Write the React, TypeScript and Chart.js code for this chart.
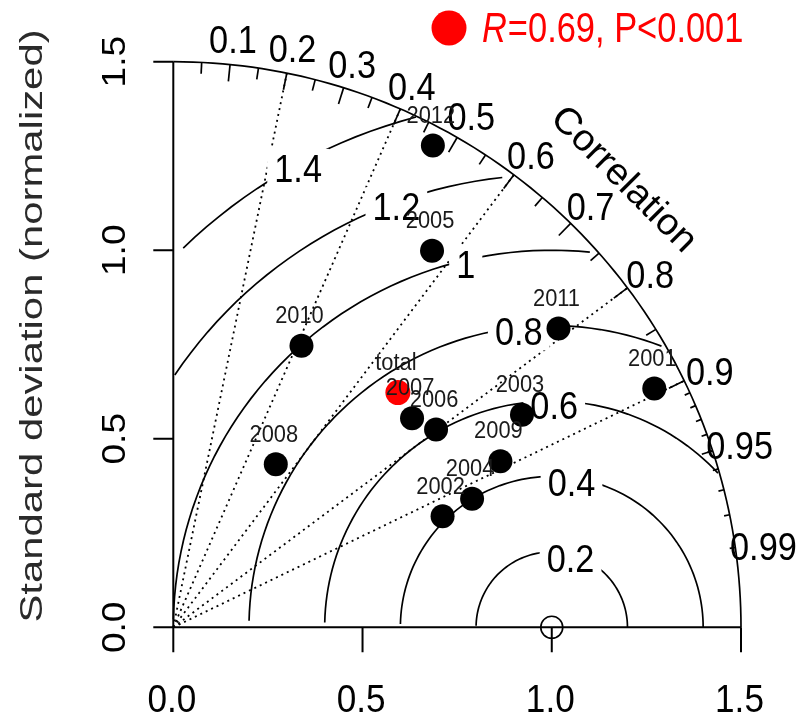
import React, { useEffect, useRef } from "react";
import { Chart, registerables } from "chart.js";

Chart.register(...registerables);

// ---------------- data ----------------
const years = ["2001", "2002", "2003", "2004", "2005", "2006", "2007", "2008", "2009", "2010", "2011", "2012"];
const yearSD = [1.42, 0.77, 1.08, 0.86, 1.21, 0.87, 0.84, 0.51, 0.97, 0.82, 1.29, 1.45];
const yearCorr = [0.895, 0.924, 0.853, 0.918, 0.565, 0.798, 0.751, 0.531, 0.891, 0.413, 0.789, 0.473];

const totalLabel = "total";
const totalSD = 0.86;
const totalCorr = 0.69;

const axisTicks = [0, 0.5, 1.0, 1.5];
const axisTickLabels = ["0.0", "0.5", "1.0", "1.5"];
const corrTickValues = [0.1, 0.2, 0.3, 0.4, 0.5, 0.6, 0.7, 0.8, 0.9, 0.95, 0.99];
const corrTickLabels = ["0.1", "0.2", "0.3", "0.4", "0.5", "0.6", "0.7", "0.8", "0.9", "0.95", "0.99"];
const corrLines = [0.2, 0.4, 0.6, 0.8, 0.9];
const rmsContours = [0.2, 0.4, 0.6, 0.8, 1.0, 1.2, 1.4];
const rmsLabels = ["0.2", "0.4", "0.6", "0.8", "1", "1.2", "1.4"];
const maxSD = 1.5;
const refSD = 1.0;

const yTitle = "Standard deviation (normalized)";
const corrTitle = "Correlation";
const legendR = "R";
const legendRest = "=0.69, P<0.001";

// ---------------- layout ----------------
const W = 801;
const H = 720;
const FONT = '"Liberation Sans", Arial, Helvetica, sans-serif';
const rmsLabelIndex = [45, 49, 53, 57, 61, 65, 70];

function toXY(sd: number, r: number) {
  return { x: sd * r, y: sd * Math.sqrt(1 - r * r) };
}

function txt(
  ctx: CanvasRenderingContext2D,
  s: string,
  x: number,
  y: number,
  size: number,
  o: { rot?: number; sx?: number; align?: CanvasTextAlign; color?: string; italic?: boolean } = {}
) {
  ctx.save();
  ctx.translate(x, y);
  if (o.rot) ctx.rotate(o.rot);
  ctx.scale(o.sx ?? 1, 1);
  ctx.font = `${o.italic ? "italic " : ""}${size}px ${FONT}`;
  ctx.fillStyle = o.color ?? "#000";
  ctx.textAlign = o.align ?? "center";
  ctx.textBaseline = "alphabetic";
  ctx.fillText(s, 0, 0.358 * size);
  ctx.restore();
}

function textWidth(ctx: CanvasRenderingContext2D, s: string, size: number, sx: number, italic = false) {
  ctx.save();
  ctx.font = `${italic ? "italic " : ""}${size}px ${FONT}`;
  const w = ctx.measureText(s).width * sx;
  ctx.restore();
  return w;
}

const taylorPlugin = {
  id: "taylor",
  beforeDatasetsDraw(chart: any) {
    const ctx: CanvasRenderingContext2D = chart.ctx;
    const xs = chart.scales.x;
    const ys = chart.scales.y;
    const px = (v: number) => xs.getPixelForValue(v);
    const py = (v: number) => ys.getPixelForValue(v);
    ctx.save();
    ctx.lineCap = "butt";

    // radial correlation lines (dotted)
    ctx.strokeStyle = "#000";
    ctx.lineWidth = 1.8;
    ctx.setLineDash([2, 4]);
    corrLines.forEach((r) => {
      ctx.beginPath();
      ctx.moveTo(px(0), py(0));
      ctx.lineTo(px(maxSD * r), py(maxSD * Math.sqrt(1 - r * r)));
      ctx.stroke();
    });
    ctx.setLineDash([]);

    // RMS contours (plotrix-like sampling)
    const thetas: number[] = [];
    for (let i = 0; i < 105; i++) thetas.push(i * 0.03);
    rmsContours.forEach((g) => {
      const xc = thetas.map((t) => Math.cos(t) * g + refSD);
      const yc = thetas.map((t) => Math.sin(t) * g);
      let end = xc.findIndex((v) => v < 0);
      end = end >= 0 ? end - 1 : xc.length - 1;
      let start = 0;
      for (let i = 0; i < xc.length; i++) if (xc[i] * xc[i] + yc[i] * yc[i] > maxSD * maxSD) start = i + 1;
      ctx.beginPath();
      for (let i = start; i <= end; i++) {
        if (i === start) ctx.moveTo(px(xc[i]), py(yc[i]));
        else ctx.lineTo(px(xc[i]), py(yc[i]));
      }
      ctx.lineWidth = 1.7;
      ctx.stroke();
    });

    // RMS labels with white boxes
    rmsContours.forEach((g, k) => {
      const t = (rmsLabelIndex[k] - 1) * 0.03;
      const lx = px(Math.cos(t) * g + refSD);
      const ly = py(Math.sin(t) * g) + 4;
      const size = 39;
      const sx = 0.88;
      const w = textWidth(ctx, rmsLabels[k], size, sx);
      const h = 0.716 * size;
      ctx.fillStyle = "#fff";
      ctx.fillRect(lx - w / 2 - 7, ly - h / 2 - 5, w + 14, h + 10);
      txt(ctx, rmsLabels[k], lx, ly, size, { sx });
    });

    // outer arc
    ctx.strokeStyle = "#000";
    ctx.lineWidth = 1.7;
    ctx.beginPath();
    for (let i = 0; i <= 90; i++) {
      const a = (i / 90) * (Math.PI / 2);
      const x = px(Math.cos(a) * maxSD);
      const y = py(Math.sin(a) * maxSD);
      if (i === 0) ctx.moveTo(x, y);
      else ctx.lineTo(x, y);
    }
    ctx.stroke();

    // arc ticks
    const tick = (r: number, f: number) => {
      const a = Math.acos(r);
      ctx.beginPath();
      ctx.moveTo(px(Math.cos(a) * maxSD), py(Math.sin(a) * maxSD));
      ctx.lineTo(px(Math.cos(a) * maxSD * f), py(Math.sin(a) * maxSD * f));
      ctx.stroke();
    };
    for (let i = 1; i <= 9; i++) tick(i / 10, 0.97);
    for (let i = 0; i < 10; i++) tick(0.05 + i * 0.1, 0.98);
    for (let i = 1; i <= 9; i++) tick(0.9 + i / 100, 0.99);

    // axes
    ctx.lineWidth = 2;
    ctx.beginPath();
    ctx.moveTo(px(0), py(0));
    ctx.lineTo(px(maxSD), py(0));
    ctx.moveTo(px(0), py(0));
    ctx.lineTo(px(0), py(maxSD));
    axisTicks.forEach((v) => {
      ctx.moveTo(px(v), py(0));
      ctx.lineTo(px(v), py(0) + 25);
      ctx.moveTo(px(0), py(v));
      ctx.lineTo(px(0) - 20, py(v));
    });
    ctx.stroke();

    // reference point
    ctx.lineWidth = 1.6;
    ctx.beginPath();
    ctx.arc(px(refSD), py(0), 11, 0, Math.PI * 2);
    ctx.stroke();

    // axis tick labels
    axisTicks.forEach((v, i) => {
      txt(ctx, axisTickLabels[i], px(v) - 1.5, 698, 39, { sx: 0.9 });
      txt(ctx, axisTickLabels[i], 113, py(v), 34, { sx: 1.09, rot: -Math.PI / 2 });
    });

    // y title
    txt(ctx, yTitle, 31, 326, 31, { sx: 1.35, rot: -Math.PI / 2, color: "#2a2a2a" });

    // correlation labels
    corrTickValues.forEach((r, i) => {
      const a = Math.acos(r);
      const x = px(Math.cos(a) * maxSD * 1.05);
      const y = py(Math.sin(a) * maxSD * 1.05) + 3;
      txt(ctx, corrTickLabels[i], x, y, 39, { sx: 0.88 });
    });
    txt(ctx, corrTitle, px(maxSD * 0.8) - 2, py(maxSD * 0.8) + 3, 37, { sx: 1.05, rot: Math.PI / 4 });

    // legend
    ctx.fillStyle = "#ff0000";
    ctx.beginPath();
    ctx.arc(449, 28, 17.5, 0, Math.PI * 2);
    ctx.fill();
    const ls = 42;
    const lsx = 0.82;
    txt(ctx, legendR, 482, 27, ls, { sx: lsx, align: "left", color: "#ff0000", italic: true });
    const rw = textWidth(ctx, legendR, ls, lsx, true);
    txt(ctx, legendRest, 482 + rw + 1, 27, ls, { sx: lsx, align: "left", color: "#ff0000" });

    ctx.restore();
  },
  afterDatasetsDraw(chart: any) {
    const ctx: CanvasRenderingContext2D = chart.ctx;
    const xs = chart.scales.x;
    const ys = chart.scales.y;
    const lab = (name: string, sd: number, r: number) => {
      const p = toXY(sd, r);
      txt(ctx, name, xs.getPixelForValue(p.x) - 2, ys.getPixelForValue(p.y) - 31, 23, { sx: 0.95, color: "#1a1a1a" });
    };
    years.forEach((yname, i) => lab(yname, yearSD[i], yearCorr[i]));
    lab(totalLabel, totalSD, totalCorr);
  },
};

export default function App() {
  const ref = useRef<HTMLCanvasElement | null>(null);
  useEffect(() => {
    if (!ref.current) return;
    const yearPts = years.map((_, i) => toXY(yearSD[i], yearCorr[i]));
    const totalPts = [toXY(totalSD, totalCorr)];
    const chart = new Chart(ref.current, {
      type: "scatter",
      data: {
        datasets: [
          {
            label: "years",
            data: yearPts,
            pointRadius: 12,
            pointBackgroundColor: "#000",
            pointBorderWidth: 0,
            pointBorderColor: "#000",
            clip: false as any,
          },
          {
            label: totalLabel,
            data: totalPts,
            pointRadius: 12.5,
            pointBackgroundColor: "#ff0000",
            pointBorderWidth: 0,
            pointBorderColor: "#ff0000",
            clip: false as any,
          },
        ],
      },
      options: {
        responsive: false,
        animation: false,
        events: [],
        layout: { padding: { left: 173.3, right: W - 741, top: 61.7, bottom: H - 627.3 } },
        scales: {
          x: { type: "linear", min: 0, max: maxSD, display: false },
          y: { type: "linear", min: 0, max: maxSD, display: false },
        },
        plugins: { legend: { display: false }, tooltip: { enabled: false } },
      },
      plugins: [taylorPlugin],
    });
    return () => chart.destroy();
  }, []);
  return (
    <div style={{ position: "fixed", left: 0, top: 0, width: W, height: H, background: "#fff" }}>
      <canvas ref={ref} width={W} height={H} style={{ width: W, height: H, display: "block" }} />
    </div>
  );
}
